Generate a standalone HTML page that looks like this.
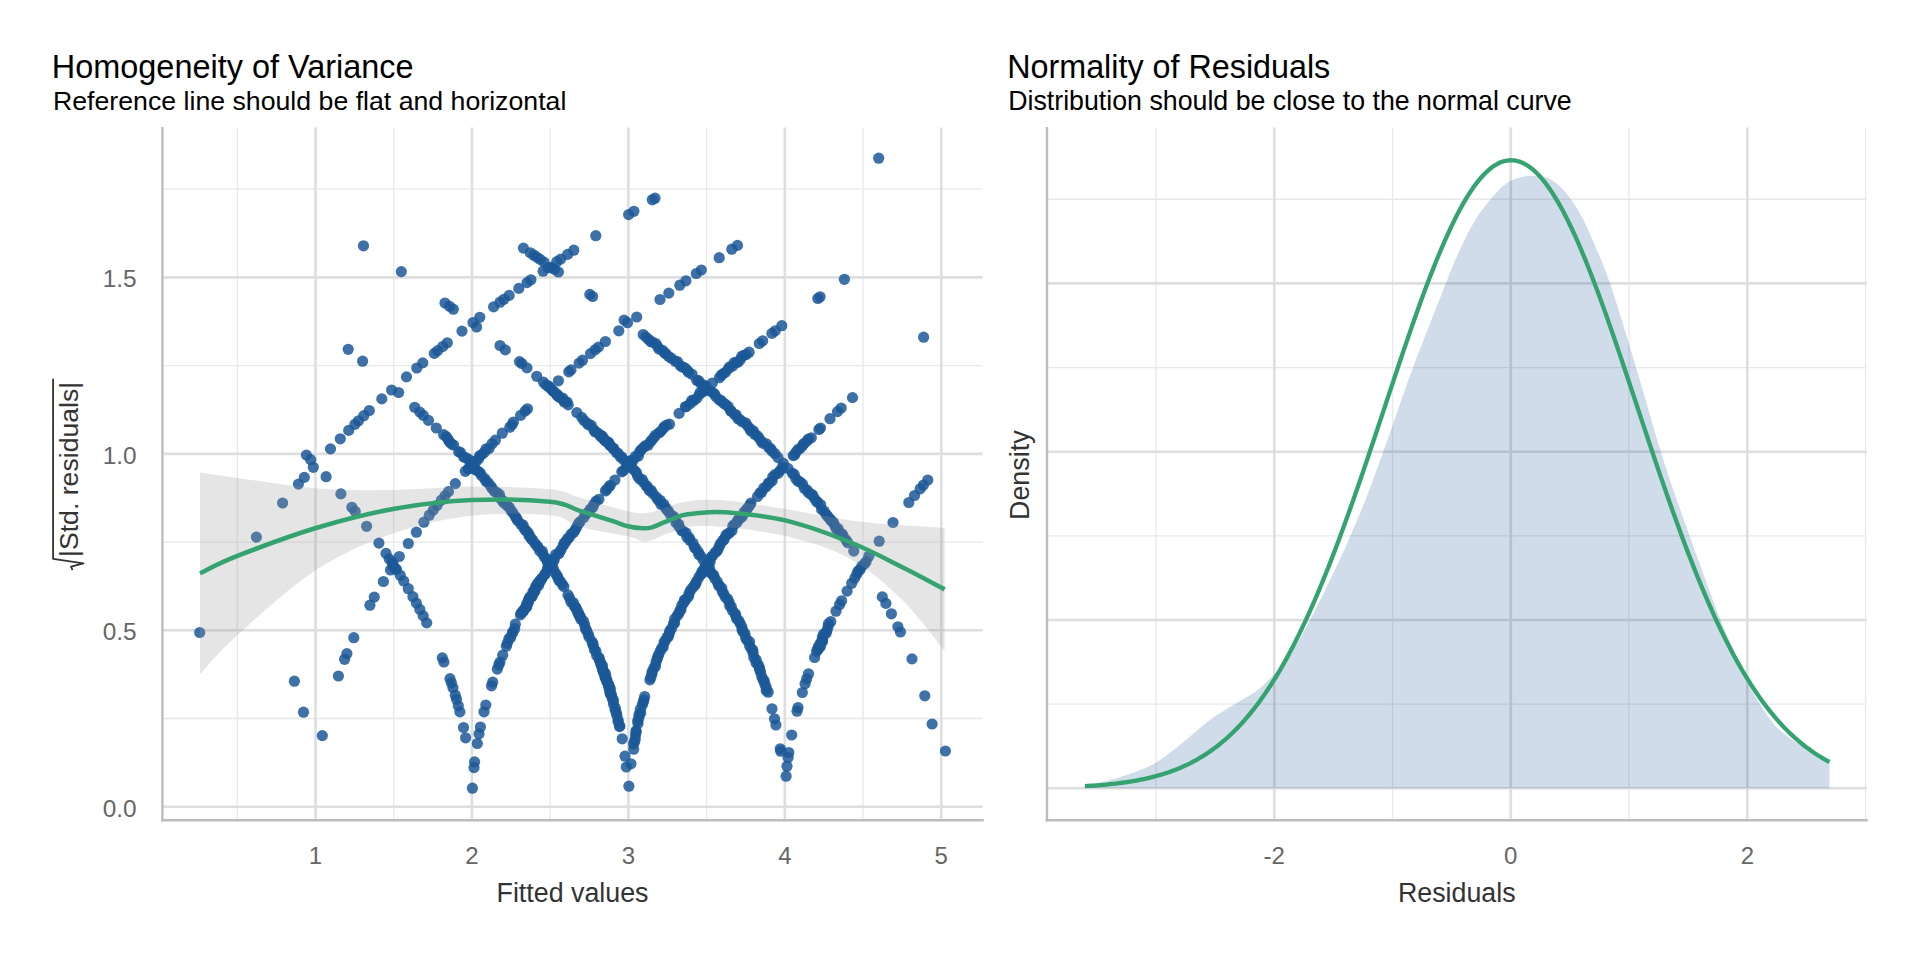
<!DOCTYPE html>
<html><head><meta charset="utf-8"><style>
html,body{margin:0;padding:0;background:#fff;width:1920px;height:960px;overflow:hidden}
svg{display:block;font-family:"Liberation Sans", sans-serif}
</style></head><body>
<svg width="1920" height="960" viewBox="0 0 1920 960">
<rect width="1920" height="960" fill="#fff"/>
<line x1="237.28" y1="127.5" x2="237.28" y2="820.2" stroke="#e8e8e8" stroke-width="1.3"/>
<line x1="393.72" y1="127.5" x2="393.72" y2="820.2" stroke="#e8e8e8" stroke-width="1.3"/>
<line x1="550.16" y1="127.5" x2="550.16" y2="820.2" stroke="#e8e8e8" stroke-width="1.3"/>
<line x1="706.60" y1="127.5" x2="706.60" y2="820.2" stroke="#e8e8e8" stroke-width="1.3"/>
<line x1="863.04" y1="127.5" x2="863.04" y2="820.2" stroke="#e8e8e8" stroke-width="1.3"/>
<line x1="162.4" y1="718.48" x2="982.5" y2="718.48" stroke="#e8e8e8" stroke-width="1.3"/>
<line x1="162.4" y1="542.05" x2="982.5" y2="542.05" stroke="#e8e8e8" stroke-width="1.3"/>
<line x1="162.4" y1="365.61" x2="982.5" y2="365.61" stroke="#e8e8e8" stroke-width="1.3"/>
<line x1="162.4" y1="189.18" x2="982.5" y2="189.18" stroke="#e8e8e8" stroke-width="1.3"/>
<line x1="315.50" y1="127.5" x2="315.50" y2="820.2" stroke="#dedede" stroke-width="2.6"/>
<line x1="471.94" y1="127.5" x2="471.94" y2="820.2" stroke="#dedede" stroke-width="2.6"/>
<line x1="628.38" y1="127.5" x2="628.38" y2="820.2" stroke="#dedede" stroke-width="2.6"/>
<line x1="784.82" y1="127.5" x2="784.82" y2="820.2" stroke="#dedede" stroke-width="2.6"/>
<line x1="941.26" y1="127.5" x2="941.26" y2="820.2" stroke="#dedede" stroke-width="2.6"/>
<line x1="162.4" y1="806.70" x2="982.5" y2="806.70" stroke="#dedede" stroke-width="2.6"/>
<line x1="162.4" y1="630.27" x2="982.5" y2="630.27" stroke="#dedede" stroke-width="2.6"/>
<line x1="162.4" y1="453.83" x2="982.5" y2="453.83" stroke="#dedede" stroke-width="2.6"/>
<line x1="162.4" y1="277.39" x2="982.5" y2="277.39" stroke="#dedede" stroke-width="2.6"/>
<line x1="1156.02" y1="127.5" x2="1156.02" y2="820.2" stroke="#e8e8e8" stroke-width="1.3"/>
<line x1="1392.54" y1="127.5" x2="1392.54" y2="820.2" stroke="#e8e8e8" stroke-width="1.3"/>
<line x1="1629.06" y1="127.5" x2="1629.06" y2="820.2" stroke="#e8e8e8" stroke-width="1.3"/>
<line x1="1865.58" y1="127.5" x2="1865.58" y2="820.2" stroke="#e8e8e8" stroke-width="1.3"/>
<line x1="1047.0" y1="704.15" x2="1866.5" y2="704.15" stroke="#e8e8e8" stroke-width="1.3"/>
<line x1="1047.0" y1="535.85" x2="1866.5" y2="535.85" stroke="#e8e8e8" stroke-width="1.3"/>
<line x1="1047.0" y1="367.55" x2="1866.5" y2="367.55" stroke="#e8e8e8" stroke-width="1.3"/>
<line x1="1047.0" y1="199.25" x2="1866.5" y2="199.25" stroke="#e8e8e8" stroke-width="1.3"/>
<line x1="1274.28" y1="127.5" x2="1274.28" y2="820.2" stroke="#dedede" stroke-width="2.6"/>
<line x1="1510.80" y1="127.5" x2="1510.80" y2="820.2" stroke="#dedede" stroke-width="2.6"/>
<line x1="1747.32" y1="127.5" x2="1747.32" y2="820.2" stroke="#dedede" stroke-width="2.6"/>
<line x1="1047.0" y1="788.30" x2="1866.5" y2="788.30" stroke="#dedede" stroke-width="2.6"/>
<line x1="1047.0" y1="620.00" x2="1866.5" y2="620.00" stroke="#dedede" stroke-width="2.6"/>
<line x1="1047.0" y1="451.70" x2="1866.5" y2="451.70" stroke="#dedede" stroke-width="2.6"/>
<line x1="1047.0" y1="283.40" x2="1866.5" y2="283.40" stroke="#dedede" stroke-width="2.6"/>
<line x1="162.4" y1="127.0" x2="162.4" y2="821.5" stroke="#bdbdbd" stroke-width="2.4"/>
<line x1="161.0" y1="820.2" x2="983.8" y2="820.2" stroke="#bdbdbd" stroke-width="2.6"/>
<line x1="1047.0" y1="127.0" x2="1047.0" y2="821.5" stroke="#bdbdbd" stroke-width="2.4"/>
<line x1="1045.6" y1="820.2" x2="1867.8" y2="820.2" stroke="#bdbdbd" stroke-width="2.6"/>
<g fill="#1b5898" fill-opacity="0.85">
<circle cx="363.5" cy="245.8" r="5.6"/><circle cx="401.3" cy="271.6" r="5.6"/><circle cx="348.2" cy="349.3" r="5.6"/><circle cx="362.6" cy="361.2" r="5.6"/><circle cx="437.7" cy="350.6" r="5.6"/><circle cx="434.3" cy="353.4" r="5.6"/><circle cx="391.6" cy="390.0" r="5.6"/><circle cx="398.6" cy="392.5" r="5.6"/><circle cx="381.8" cy="398.9" r="5.6"/><circle cx="369.3" cy="410.5" r="5.6"/><circle cx="363.8" cy="415.7" r="5.6"/><circle cx="358.5" cy="420.8" r="5.6"/><circle cx="354.9" cy="424.3" r="5.6"/><circle cx="348.7" cy="430.4" r="5.6"/><circle cx="340.3" cy="438.8" r="5.6"/><circle cx="330.5" cy="448.9" r="5.6"/><circle cx="306.4" cy="455.1" r="5.6"/><circle cx="310.7" cy="459.7" r="5.6"/><circle cx="313.3" cy="467.3" r="5.6"/><circle cx="304.3" cy="477.4" r="5.6"/><circle cx="298.4" cy="484.1" r="5.6"/><circle cx="326.1" cy="476.7" r="5.6"/><circle cx="282.6" cy="503.0" r="5.6"/><circle cx="256.4" cy="537.1" r="5.6"/><circle cx="340.9" cy="493.9" r="5.6"/><circle cx="351.9" cy="507.3" r="5.6"/><circle cx="355.2" cy="511.4" r="5.6"/><circle cx="366.6" cy="526.3" r="5.6"/><circle cx="378.9" cy="543.1" r="5.6"/><circle cx="386.0" cy="553.4" r="5.6"/><circle cx="399.3" cy="556.5" r="5.6"/><circle cx="878.7" cy="158.2" r="5.6"/><circle cx="844.4" cy="279.3" r="5.6"/><circle cx="817.8" cy="298.5" r="5.6"/><circle cx="820.1" cy="296.8" r="5.6"/><circle cx="781.8" cy="325.7" r="5.6"/><circle cx="923.6" cy="337.2" r="5.6"/><circle cx="199.7" cy="632.5" r="5.6"/><circle cx="945.4" cy="751.0" r="5.6"/><circle cx="932.1" cy="724.0" r="5.6"/><circle cx="294.4" cy="681.2" r="5.6"/><circle cx="303.5" cy="712.2" r="5.6"/><circle cx="322.3" cy="735.6" r="5.6"/><circle cx="338.4" cy="676.0" r="5.6"/><circle cx="344.6" cy="659.3" r="5.6"/><circle cx="346.9" cy="653.6" r="5.6"/><circle cx="353.8" cy="637.7" r="5.6"/><circle cx="369.9" cy="605.2" r="5.6"/><circle cx="374.3" cy="597.1" r="5.6"/><circle cx="383.4" cy="581.5" r="5.6"/><circle cx="390.5" cy="570.0" r="5.6"/><circle cx="393.2" cy="564.3" r="5.6"/><circle cx="400.2" cy="575.3" r="5.6"/><circle cx="523.4" cy="248.1" r="5.6"/><circle cx="530.3" cy="252.8" r="5.6"/><circle cx="533.9" cy="255.2" r="5.6"/><circle cx="536.7" cy="257.1" r="5.6"/><circle cx="540.1" cy="259.4" r="5.6"/><circle cx="544.0" cy="262.1" r="5.6"/><circle cx="543.1" cy="271.2" r="5.6"/><circle cx="548.1" cy="267.7" r="5.6"/><circle cx="551.6" cy="267.3" r="5.6"/><circle cx="554.5" cy="269.3" r="5.6"/><circle cx="558.4" cy="272.0" r="5.6"/><circle cx="556.8" cy="261.7" r="5.6"/><circle cx="560.7" cy="259.1" r="5.6"/><circle cx="567.6" cy="254.4" r="5.6"/><circle cx="573.8" cy="250.2" r="5.6"/><circle cx="595.8" cy="235.7" r="5.6"/><circle cx="589.8" cy="294.4" r="5.6"/><circle cx="592.6" cy="296.5" r="5.6"/><circle cx="445.0" cy="303.0" r="5.6"/><circle cx="449.6" cy="306.4" r="5.6"/><circle cx="453.3" cy="309.2" r="5.6"/><circle cx="479.8" cy="317.3" r="5.6"/><circle cx="473.0" cy="322.5" r="5.6"/><circle cx="476.6" cy="327.0" r="5.6"/><circle cx="462.0" cy="331.1" r="5.6"/><circle cx="493.6" cy="306.9" r="5.6"/><circle cx="500.0" cy="302.2" r="5.6"/><circle cx="503.9" cy="299.3" r="5.6"/><circle cx="509.2" cy="295.4" r="5.6"/><circle cx="518.8" cy="288.4" r="5.6"/><circle cx="527.0" cy="282.6" r="5.6"/><circle cx="530.9" cy="279.8" r="5.6"/><circle cx="447.3" cy="342.8" r="5.6"/><circle cx="442.7" cy="346.5" r="5.6"/><circle cx="422.8" cy="362.9" r="5.6"/><circle cx="416.8" cy="368.0" r="5.6"/><circle cx="406.5" cy="376.9" r="5.6"/><circle cx="500.0" cy="345.5" r="5.6"/><circle cx="505.3" cy="349.9" r="5.6"/><circle cx="519.5" cy="361.6" r="5.6"/><circle cx="521.8" cy="363.5" r="5.6"/><circle cx="527.0" cy="367.9" r="5.6"/><circle cx="536.7" cy="376.3" r="5.6"/><circle cx="543.5" cy="382.2" r="5.6"/><circle cx="548.1" cy="386.3" r="5.6"/><circle cx="552.7" cy="390.4" r="5.6"/><circle cx="557.3" cy="394.5" r="5.6"/><circle cx="564.2" cy="400.8" r="5.6"/><circle cx="558.4" cy="380.8" r="5.6"/><circle cx="568.8" cy="371.8" r="5.6"/><circle cx="571.0" cy="369.9" r="5.6"/><circle cx="579.1" cy="363.1" r="5.6"/><circle cx="582.5" cy="360.2" r="5.6"/><circle cx="590.5" cy="353.6" r="5.6"/><circle cx="595.1" cy="349.8" r="5.6"/><circle cx="598.5" cy="347.0" r="5.6"/><circle cx="605.4" cy="341.5" r="5.6"/><circle cx="628.6" cy="214.6" r="5.6"/><circle cx="633.9" cy="211.3" r="5.6"/><circle cx="652.3" cy="199.8" r="5.6"/><circle cx="655.0" cy="198.2" r="5.6"/><circle cx="660.0" cy="299.5" r="5.6"/><circle cx="668.8" cy="293.1" r="5.6"/><circle cx="679.8" cy="285.2" r="5.6"/><circle cx="685.9" cy="280.8" r="5.6"/><circle cx="696.3" cy="273.5" r="5.6"/><circle cx="701.3" cy="270.0" r="5.6"/><circle cx="719.2" cy="257.7" r="5.6"/><circle cx="731.8" cy="249.2" r="5.6"/><circle cx="737.5" cy="245.4" r="5.6"/><circle cx="618.8" cy="330.8" r="5.6"/><circle cx="624.1" cy="320.1" r="5.6"/><circle cx="627.5" cy="322.7" r="5.6"/><circle cx="636.7" cy="317.0" r="5.6"/><circle cx="759.3" cy="343.5" r="5.6"/><circle cx="762.7" cy="340.8" r="5.6"/><circle cx="771.9" cy="333.4" r="5.6"/><circle cx="775.3" cy="330.8" r="5.6"/><circle cx="622.2" cy="738.8" r="5.6"/><circle cx="625.0" cy="756.2" r="5.6"/><circle cx="626.3" cy="767.0" r="5.6"/><circle cx="628.9" cy="786.2" r="5.6"/><circle cx="630.9" cy="763.8" r="5.6"/><circle cx="772.0" cy="708.8" r="5.6"/><circle cx="774.5" cy="718.8" r="5.6"/><circle cx="775.9" cy="725.0" r="5.6"/><circle cx="780.3" cy="748.8" r="5.6"/><circle cx="780.7" cy="751.2" r="5.6"/><circle cx="788.8" cy="752.5" r="5.6"/><circle cx="788.1" cy="757.5" r="5.6"/><circle cx="787.0" cy="766.2" r="5.6"/><circle cx="786.1" cy="776.2" r="5.6"/><circle cx="791.7" cy="735.0" r="5.6"/><circle cx="798.0" cy="707.5" r="5.6"/><circle cx="797.0" cy="711.2" r="5.6"/><circle cx="802.3" cy="692.5" r="5.6"/><circle cx="805.1" cy="683.8" r="5.6"/><circle cx="806.7" cy="678.8" r="5.6"/><circle cx="808.5" cy="673.8" r="5.6"/><circle cx="814.6" cy="657.5" r="5.6"/><circle cx="472.4" cy="788.2" r="5.6"/><circle cx="474.6" cy="761.9" r="5.6"/><circle cx="474.0" cy="767.6" r="5.6"/><circle cx="477.3" cy="743.5" r="5.6"/><circle cx="479.0" cy="733.9" r="5.6"/><circle cx="480.4" cy="727.0" r="5.6"/><circle cx="465.6" cy="737.8" r="5.6"/><circle cx="463.5" cy="727.5" r="5.6"/><circle cx="868.8" cy="556.2" r="5.6"/><circle cx="879.2" cy="541.2" r="5.6"/><circle cx="893.0" cy="522.5" r="5.6"/><circle cx="908.8" cy="502.5" r="5.6"/><circle cx="914.5" cy="495.5" r="5.6"/><circle cx="920.2" cy="488.8" r="5.6"/><circle cx="923.4" cy="485.0" r="5.6"/><circle cx="927.8" cy="480.0" r="5.6"/><circle cx="820.5" cy="428.0" r="5.6"/><circle cx="830.0" cy="418.7" r="5.6"/><circle cx="837.5" cy="411.6" r="5.6"/><circle cx="841.2" cy="408.0" r="5.6"/><circle cx="852.5" cy="397.6" r="5.6"/><circle cx="836.0" cy="611.2" r="5.6"/><circle cx="839.5" cy="604.7" r="5.6"/><circle cx="841.6" cy="600.8" r="5.6"/><circle cx="847.1" cy="591.1" r="5.6"/><circle cx="851.7" cy="583.3" r="5.6"/><circle cx="854.8" cy="578.1" r="5.6"/><circle cx="882.3" cy="596.9" r="5.6"/><circle cx="885.9" cy="603.4" r="5.6"/><circle cx="891.4" cy="613.8" r="5.6"/><circle cx="897.9" cy="626.8" r="5.6"/><circle cx="900.4" cy="632.0" r="5.6"/><circle cx="912.0" cy="658.9" r="5.6"/><circle cx="924.8" cy="695.8" r="5.6"/><circle cx="443.6" cy="434.7" r="5.6"/><circle cx="446.2" cy="436.5" r="5.6"/><circle cx="448.1" cy="439.4" r="5.6"/><circle cx="449.4" cy="441.9" r="5.6"/><circle cx="451.4" cy="443.8" r="5.6"/><circle cx="453.5" cy="445.0" r="5.6"/><circle cx="458.7" cy="451.7" r="5.6"/><circle cx="460.5" cy="452.5" r="5.6"/><circle cx="463.5" cy="456.8" r="5.6"/><circle cx="465.7" cy="457.8" r="5.6"/><circle cx="468.5" cy="459.2" r="5.6"/><circle cx="470.4" cy="462.1" r="5.6"/><circle cx="471.3" cy="463.9" r="5.6"/><circle cx="473.7" cy="468.0" r="5.6"/><circle cx="475.5" cy="469.7" r="5.6"/><circle cx="478.3" cy="471.4" r="5.6"/><circle cx="480.2" cy="472.9" r="5.6"/><circle cx="481.5" cy="475.6" r="5.6"/><circle cx="484.6" cy="478.5" r="5.6"/><circle cx="486.0" cy="481.2" r="5.6"/><circle cx="488.4" cy="483.0" r="5.6"/><circle cx="491.0" cy="486.4" r="5.6"/><circle cx="492.2" cy="488.5" r="5.6"/><circle cx="494.6" cy="491.6" r="5.6"/><circle cx="497.0" cy="492.5" r="5.6"/><circle cx="499.4" cy="494.5" r="5.6"/><circle cx="500.5" cy="498.5" r="5.6"/><circle cx="502.1" cy="500.2" r="5.6"/><circle cx="503.9" cy="503.1" r="5.6"/><circle cx="507.3" cy="505.7" r="5.6"/><circle cx="509.4" cy="507.4" r="5.6"/><circle cx="511.1" cy="510.6" r="5.6"/><circle cx="512.8" cy="512.6" r="5.6"/><circle cx="515.1" cy="516.3" r="5.6"/><circle cx="516.4" cy="518.0" r="5.6"/><circle cx="517.6" cy="520.5" r="5.6"/><circle cx="520.8" cy="524.3" r="5.6"/><circle cx="523.0" cy="524.9" r="5.6"/><circle cx="524.1" cy="528.4" r="5.6"/><circle cx="525.4" cy="530.3" r="5.6"/><circle cx="527.5" cy="531.9" r="5.6"/><circle cx="529.1" cy="536.1" r="5.6"/><circle cx="529.2" cy="534.7" r="5.6"/><circle cx="531.3" cy="538.7" r="5.6"/><circle cx="532.5" cy="540.0" r="5.6"/><circle cx="535.0" cy="543.5" r="5.6"/><circle cx="537.1" cy="545.9" r="5.6"/><circle cx="537.9" cy="547.1" r="5.6"/><circle cx="539.7" cy="550.7" r="5.6"/><circle cx="542.3" cy="551.2" r="5.6"/><circle cx="542.7" cy="553.9" r="5.6"/><circle cx="544.4" cy="557.0" r="5.6"/><circle cx="546.6" cy="558.8" r="5.6"/><circle cx="547.3" cy="561.7" r="5.6"/><circle cx="547.9" cy="562.0" r="5.6"/><circle cx="550.5" cy="564.9" r="5.6"/><circle cx="551.4" cy="567.3" r="5.6"/><circle cx="553.3" cy="568.4" r="5.6"/><circle cx="555.3" cy="572.9" r="5.6"/><circle cx="556.9" cy="575.5" r="5.6"/><circle cx="557.7" cy="577.1" r="5.6"/><circle cx="558.9" cy="580.3" r="5.6"/><circle cx="560.4" cy="581.4" r="5.6"/><circle cx="562.2" cy="584.3" r="5.6"/><circle cx="563.9" cy="586.6" r="5.6"/><circle cx="568.0" cy="594.9" r="5.6"/><circle cx="569.6" cy="598.1" r="5.6"/><circle cx="571.0" cy="602.0" r="5.6"/><circle cx="573.4" cy="602.8" r="5.6"/><circle cx="574.2" cy="605.9" r="5.6"/><circle cx="575.8" cy="608.0" r="5.6"/><circle cx="578.0" cy="613.0" r="5.6"/><circle cx="578.8" cy="614.3" r="5.6"/><circle cx="579.5" cy="616.0" r="5.6"/><circle cx="465.3" cy="471.3" r="5.6"/><circle cx="468.2" cy="468.8" r="5.6"/><circle cx="468.9" cy="468.6" r="5.6"/><circle cx="471.8" cy="464.2" r="5.6"/><circle cx="473.9" cy="461.6" r="5.6"/><circle cx="475.9" cy="461.9" r="5.6"/><circle cx="478.6" cy="458.9" r="5.6"/><circle cx="479.7" cy="455.8" r="5.6"/><circle cx="481.6" cy="454.6" r="5.6"/><circle cx="484.3" cy="452.4" r="5.6"/><circle cx="486.1" cy="448.8" r="5.6"/><circle cx="489.0" cy="448.6" r="5.6"/><circle cx="509.8" cy="427.2" r="5.6"/><circle cx="512.0" cy="424.8" r="5.6"/><circle cx="513.4" cy="422.0" r="5.6"/><circle cx="520.4" cy="614.9" r="5.6"/><circle cx="521.2" cy="612.9" r="5.6"/><circle cx="522.9" cy="611.3" r="5.6"/><circle cx="525.4" cy="608.0" r="5.6"/><circle cx="526.8" cy="606.8" r="5.6"/><circle cx="528.3" cy="602.6" r="5.6"/><circle cx="528.5" cy="599.6" r="5.6"/><circle cx="529.9" cy="597.0" r="5.6"/><circle cx="532.1" cy="596.2" r="5.6"/><circle cx="533.9" cy="592.5" r="5.6"/><circle cx="535.1" cy="590.8" r="5.6"/><circle cx="535.7" cy="587.9" r="5.6"/><circle cx="538.5" cy="585.6" r="5.6"/><circle cx="539.8" cy="582.3" r="5.6"/><circle cx="540.4" cy="580.5" r="5.6"/><circle cx="542.2" cy="578.0" r="5.6"/><circle cx="544.8" cy="574.5" r="5.6"/><circle cx="545.4" cy="573.4" r="5.6"/><circle cx="547.5" cy="568.8" r="5.6"/><circle cx="548.2" cy="566.3" r="5.6"/><circle cx="551.0" cy="565.5" r="5.6"/><circle cx="551.4" cy="563.1" r="5.6"/><circle cx="553.8" cy="561.1" r="5.6"/><circle cx="554.4" cy="558.4" r="5.6"/><circle cx="555.7" cy="554.5" r="5.6"/><circle cx="558.7" cy="553.7" r="5.6"/><circle cx="559.6" cy="552.1" r="5.6"/><circle cx="561.1" cy="549.5" r="5.6"/><circle cx="563.4" cy="545.4" r="5.6"/><circle cx="564.2" cy="543.2" r="5.6"/><circle cx="565.9" cy="541.5" r="5.6"/><circle cx="567.6" cy="538.7" r="5.6"/><circle cx="569.1" cy="537.6" r="5.6"/><circle cx="571.2" cy="534.0" r="5.6"/><circle cx="573.3" cy="532.8" r="5.6"/><circle cx="574.8" cy="530.5" r="5.6"/><circle cx="576.7" cy="527.2" r="5.6"/><circle cx="578.5" cy="523.5" r="5.6"/><circle cx="580.1" cy="521.6" r="5.6"/><circle cx="584.0" cy="517.2" r="5.6"/><circle cx="586.2" cy="513.9" r="5.6"/><circle cx="589.0" cy="511.6" r="5.6"/><circle cx="590.3" cy="509.1" r="5.6"/><circle cx="592.7" cy="507.3" r="5.6"/><circle cx="593.9" cy="504.3" r="5.6"/><circle cx="596.1" cy="501.1" r="5.6"/><circle cx="598.9" cy="499.3" r="5.6"/><circle cx="545.9" cy="384.9" r="5.6"/><circle cx="548.8" cy="386.2" r="5.6"/><circle cx="550.6" cy="388.4" r="5.6"/><circle cx="552.8" cy="390.9" r="5.6"/><circle cx="555.0" cy="392.6" r="5.6"/><circle cx="557.3" cy="395.7" r="5.6"/><circle cx="560.0" cy="397.7" r="5.6"/><circle cx="562.7" cy="398.1" r="5.6"/><circle cx="564.3" cy="402.0" r="5.6"/><circle cx="567.1" cy="402.0" r="5.6"/><circle cx="568.2" cy="404.9" r="5.6"/><circle cx="581.8" cy="417.4" r="5.6"/><circle cx="584.0" cy="420.5" r="5.6"/><circle cx="587.2" cy="423.2" r="5.6"/><circle cx="588.4" cy="424.8" r="5.6"/><circle cx="591.3" cy="425.4" r="5.6"/><circle cx="593.8" cy="429.7" r="5.6"/><circle cx="594.9" cy="431.7" r="5.6"/><circle cx="597.3" cy="432.6" r="5.6"/><circle cx="600.3" cy="435.6" r="5.6"/><circle cx="601.1" cy="436.7" r="5.6"/><circle cx="603.8" cy="438.6" r="5.6"/><circle cx="605.3" cy="440.7" r="5.6"/><circle cx="608.3" cy="442.0" r="5.6"/><circle cx="610.1" cy="445.3" r="5.6"/><circle cx="389.2" cy="558.9" r="5.6"/><circle cx="392.0" cy="562.1" r="5.6"/><circle cx="392.8" cy="566.0" r="5.6"/><circle cx="395.7" cy="568.7" r="5.6"/><circle cx="396.4" cy="569.5" r="5.6"/><circle cx="507.3" cy="643.3" r="5.6"/><circle cx="508.9" cy="638.7" r="5.6"/><circle cx="510.5" cy="637.9" r="5.6"/><circle cx="512.4" cy="633.3" r="5.6"/><circle cx="512.7" cy="632.1" r="5.6"/><circle cx="514.7" cy="628.7" r="5.6"/><circle cx="515.3" cy="624.2" r="5.6"/><circle cx="523.2" cy="611.4" r="5.6"/><circle cx="523.7" cy="610.0" r="5.6"/><circle cx="526.0" cy="606.9" r="5.6"/><circle cx="526.6" cy="604.3" r="5.6"/><circle cx="528.1" cy="601.6" r="5.6"/><circle cx="530.2" cy="597.5" r="5.6"/><circle cx="531.9" cy="596.3" r="5.6"/><circle cx="533.0" cy="591.6" r="5.6"/><circle cx="535.0" cy="589.1" r="5.6"/><circle cx="535.9" cy="586.3" r="5.6"/><circle cx="537.4" cy="583.7" r="5.6"/><circle cx="539.4" cy="581.3" r="5.6"/><circle cx="541.7" cy="578.6" r="5.6"/><circle cx="575.6" cy="607.3" r="5.6"/><circle cx="576.8" cy="609.7" r="5.6"/><circle cx="578.1" cy="612.4" r="5.6"/><circle cx="580.3" cy="616.6" r="5.6"/><circle cx="580.8" cy="619.2" r="5.6"/><circle cx="583.4" cy="621.0" r="5.6"/><circle cx="584.6" cy="624.7" r="5.6"/><circle cx="585.4" cy="628.5" r="5.6"/><circle cx="586.6" cy="630.5" r="5.6"/><circle cx="588.4" cy="634.5" r="5.6"/><circle cx="589.1" cy="637.0" r="5.6"/><circle cx="592.0" cy="641.6" r="5.6"/><circle cx="592.7" cy="643.5" r="5.6"/><circle cx="593.3" cy="645.6" r="5.6"/><circle cx="594.5" cy="649.9" r="5.6"/><circle cx="595.9" cy="651.1" r="5.6"/><circle cx="596.7" cy="655.5" r="5.6"/><circle cx="599.1" cy="657.8" r="5.6"/><circle cx="600.5" cy="662.5" r="5.6"/><circle cx="601.5" cy="665.8" r="5.6"/><circle cx="602.3" cy="668.5" r="5.6"/><circle cx="603.5" cy="672.5" r="5.6"/><circle cx="605.6" cy="674.2" r="5.6"/><circle cx="605.4" cy="678.0" r="5.6"/><circle cx="606.4" cy="679.2" r="5.6"/><circle cx="606.9" cy="682.0" r="5.6"/><circle cx="608.5" cy="685.0" r="5.6"/><circle cx="609.0" cy="687.8" r="5.6"/><circle cx="609.5" cy="690.0" r="5.6"/><circle cx="610.5" cy="693.1" r="5.6"/><circle cx="611.3" cy="694.9" r="5.6"/><circle cx="643.2" cy="334.5" r="5.6"/><circle cx="645.9" cy="337.1" r="5.6"/><circle cx="648.5" cy="339.3" r="5.6"/><circle cx="650.8" cy="341.7" r="5.6"/><circle cx="652.5" cy="342.1" r="5.6"/><circle cx="655.8" cy="343.5" r="5.6"/><circle cx="657.7" cy="346.6" r="5.6"/><circle cx="658.9" cy="349.0" r="5.6"/><circle cx="662.5" cy="350.3" r="5.6"/><circle cx="664.5" cy="352.7" r="5.6"/><circle cx="665.9" cy="353.8" r="5.6"/><circle cx="668.7" cy="356.5" r="5.6"/><circle cx="671.5" cy="358.3" r="5.6"/><circle cx="737.6" cy="362.4" r="5.6"/><circle cx="740.1" cy="360.0" r="5.6"/><circle cx="741.7" cy="356.4" r="5.6"/><circle cx="743.8" cy="355.3" r="5.6"/><circle cx="746.1" cy="354.6" r="5.6"/><circle cx="749.1" cy="352.2" r="5.6"/><circle cx="675.2" cy="361.3" r="5.6"/><circle cx="677.4" cy="361.5" r="5.6"/><circle cx="680.3" cy="365.5" r="5.6"/><circle cx="682.2" cy="367.0" r="5.6"/><circle cx="684.8" cy="367.8" r="5.6"/><circle cx="687.3" cy="370.3" r="5.6"/><circle cx="688.6" cy="372.4" r="5.6"/><circle cx="692.1" cy="374.3" r="5.6"/><circle cx="696.7" cy="380.3" r="5.6"/><circle cx="698.6" cy="380.7" r="5.6"/><circle cx="700.8" cy="383.5" r="5.6"/><circle cx="703.6" cy="385.3" r="5.6"/><circle cx="705.6" cy="385.9" r="5.6"/><circle cx="709.4" cy="390.5" r="5.6"/><circle cx="712.6" cy="392.6" r="5.6"/><circle cx="714.5" cy="393.9" r="5.6"/><circle cx="715.9" cy="396.6" r="5.6"/><circle cx="719.1" cy="399.7" r="5.6"/><circle cx="721.3" cy="400.7" r="5.6"/><circle cx="723.3" cy="403.1" r="5.6"/><circle cx="725.4" cy="404.3" r="5.6"/><circle cx="728.2" cy="406.5" r="5.6"/><circle cx="730.5" cy="410.5" r="5.6"/><circle cx="731.2" cy="411.3" r="5.6"/><circle cx="734.6" cy="414.6" r="5.6"/><circle cx="736.2" cy="414.9" r="5.6"/><circle cx="738.0" cy="418.7" r="5.6"/><circle cx="740.1" cy="419.8" r="5.6"/><circle cx="742.2" cy="421.8" r="5.6"/><circle cx="745.6" cy="422.8" r="5.6"/><circle cx="747.5" cy="425.9" r="5.6"/><circle cx="749.8" cy="428.5" r="5.6"/><circle cx="750.8" cy="431.1" r="5.6"/><circle cx="753.4" cy="430.9" r="5.6"/><circle cx="754.7" cy="434.2" r="5.6"/><circle cx="757.5" cy="435.9" r="5.6"/><circle cx="759.1" cy="438.1" r="5.6"/><circle cx="761.5" cy="441.5" r="5.6"/><circle cx="763.1" cy="443.4" r="5.6"/><circle cx="766.5" cy="443.9" r="5.6"/><circle cx="768.7" cy="447.6" r="5.6"/><circle cx="770.7" cy="448.6" r="5.6"/><circle cx="771.9" cy="451.1" r="5.6"/><circle cx="775.0" cy="453.7" r="5.6"/><circle cx="792.3" cy="473.2" r="5.6"/><circle cx="794.2" cy="474.5" r="5.6"/><circle cx="795.9" cy="478.8" r="5.6"/><circle cx="798.2" cy="481.4" r="5.6"/><circle cx="800.1" cy="481.9" r="5.6"/><circle cx="802.5" cy="484.0" r="5.6"/><circle cx="804.3" cy="488.3" r="5.6"/><circle cx="807.1" cy="490.2" r="5.6"/><circle cx="808.6" cy="492.8" r="5.6"/><circle cx="811.1" cy="494.2" r="5.6"/><circle cx="812.7" cy="495.2" r="5.6"/><circle cx="814.6" cy="498.6" r="5.6"/><circle cx="816.6" cy="501.5" r="5.6"/><circle cx="817.7" cy="502.3" r="5.6"/><circle cx="820.7" cy="504.8" r="5.6"/><circle cx="621.8" cy="471.8" r="5.6"/><circle cx="623.4" cy="470.6" r="5.6"/><circle cx="626.5" cy="467.2" r="5.6"/><circle cx="628.0" cy="465.1" r="5.6"/><circle cx="629.8" cy="463.2" r="5.6"/><circle cx="631.2" cy="460.4" r="5.6"/><circle cx="633.3" cy="460.2" r="5.6"/><circle cx="635.7" cy="456.2" r="5.6"/><circle cx="638.4" cy="456.1" r="5.6"/><circle cx="639.7" cy="451.7" r="5.6"/><circle cx="641.3" cy="449.5" r="5.6"/><circle cx="643.6" cy="447.4" r="5.6"/><circle cx="645.5" cy="445.7" r="5.6"/><circle cx="648.1" cy="445.2" r="5.6"/><circle cx="650.4" cy="441.8" r="5.6"/><circle cx="651.9" cy="440.0" r="5.6"/><circle cx="654.0" cy="437.4" r="5.6"/><circle cx="655.5" cy="435.2" r="5.6"/><circle cx="659.1" cy="432.7" r="5.6"/><circle cx="660.4" cy="431.9" r="5.6"/><circle cx="663.1" cy="428.8" r="5.6"/><circle cx="664.2" cy="426.8" r="5.6"/><circle cx="666.5" cy="425.2" r="5.6"/><circle cx="669.5" cy="424.2" r="5.6"/><circle cx="685.4" cy="406.8" r="5.6"/><circle cx="686.3" cy="406.5" r="5.6"/><circle cx="690.0" cy="403.7" r="5.6"/><circle cx="691.8" cy="400.4" r="5.6"/><circle cx="693.7" cy="400.7" r="5.6"/><circle cx="696.7" cy="398.4" r="5.6"/><circle cx="699.2" cy="394.8" r="5.6"/><circle cx="700.2" cy="392.4" r="5.6"/><circle cx="703.1" cy="391.7" r="5.6"/><circle cx="706.1" cy="389.8" r="5.6"/><circle cx="719.4" cy="377.7" r="5.6"/><circle cx="721.3" cy="375.2" r="5.6"/><circle cx="722.9" cy="373.9" r="5.6"/><circle cx="725.4" cy="372.4" r="5.6"/><circle cx="728.3" cy="368.9" r="5.6"/><circle cx="729.7" cy="366.8" r="5.6"/><circle cx="732.7" cy="366.1" r="5.6"/><circle cx="734.1" cy="362.6" r="5.6"/><circle cx="737.0" cy="362.0" r="5.6"/><circle cx="599.8" cy="434.5" r="5.6"/><circle cx="602.2" cy="436.0" r="5.6"/><circle cx="603.8" cy="439.2" r="5.6"/><circle cx="606.8" cy="441.8" r="5.6"/><circle cx="608.7" cy="443.4" r="5.6"/><circle cx="609.7" cy="444.9" r="5.6"/><circle cx="612.9" cy="448.2" r="5.6"/><circle cx="613.8" cy="448.5" r="5.6"/><circle cx="616.1" cy="452.3" r="5.6"/><circle cx="618.0" cy="453.3" r="5.6"/><circle cx="620.4" cy="457.1" r="5.6"/><circle cx="621.7" cy="456.9" r="5.6"/><circle cx="623.8" cy="460.1" r="5.6"/><circle cx="626.3" cy="461.6" r="5.6"/><circle cx="628.5" cy="465.1" r="5.6"/><circle cx="632.0" cy="468.1" r="5.6"/><circle cx="634.8" cy="470.6" r="5.6"/><circle cx="636.5" cy="472.7" r="5.6"/><circle cx="637.6" cy="476.3" r="5.6"/><circle cx="639.7" cy="479.1" r="5.6"/><circle cx="642.0" cy="479.3" r="5.6"/><circle cx="643.5" cy="482.2" r="5.6"/><circle cx="646.2" cy="485.8" r="5.6"/><circle cx="647.3" cy="486.7" r="5.6"/><circle cx="649.4" cy="490.5" r="5.6"/><circle cx="651.2" cy="490.4" r="5.6"/><circle cx="653.0" cy="493.6" r="5.6"/><circle cx="656.3" cy="497.1" r="5.6"/><circle cx="657.9" cy="499.8" r="5.6"/><circle cx="660.2" cy="500.3" r="5.6"/><circle cx="660.9" cy="504.3" r="5.6"/><circle cx="663.7" cy="504.2" r="5.6"/><circle cx="665.4" cy="507.5" r="5.6"/><circle cx="666.8" cy="509.7" r="5.6"/><circle cx="668.4" cy="511.2" r="5.6"/><circle cx="670.4" cy="514.5" r="5.6"/><circle cx="673.3" cy="516.3" r="5.6"/><circle cx="675.2" cy="518.9" r="5.6"/><circle cx="676.0" cy="522.9" r="5.6"/><circle cx="678.6" cy="524.2" r="5.6"/><circle cx="679.2" cy="526.7" r="5.6"/><circle cx="681.5" cy="530.3" r="5.6"/><circle cx="683.0" cy="531.3" r="5.6"/><circle cx="685.9" cy="532.8" r="5.6"/><circle cx="686.9" cy="537.3" r="5.6"/><circle cx="689.2" cy="537.7" r="5.6"/><circle cx="689.8" cy="540.2" r="5.6"/><circle cx="693.0" cy="543.2" r="5.6"/><circle cx="694.4" cy="547.3" r="5.6"/><circle cx="695.5" cy="548.2" r="5.6"/><circle cx="698.2" cy="551.6" r="5.6"/><circle cx="698.7" cy="554.3" r="5.6"/><circle cx="700.5" cy="555.6" r="5.6"/><circle cx="702.2" cy="571.3" r="5.6"/><circle cx="705.2" cy="568.5" r="5.6"/><circle cx="706.9" cy="564.5" r="5.6"/><circle cx="707.4" cy="563.1" r="5.6"/><circle cx="710.1" cy="561.9" r="5.6"/><circle cx="710.8" cy="557.6" r="5.6"/><circle cx="712.6" cy="555.8" r="5.6"/><circle cx="715.0" cy="552.6" r="5.6"/><circle cx="716.5" cy="551.6" r="5.6"/><circle cx="718.2" cy="549.2" r="5.6"/><circle cx="719.5" cy="545.7" r="5.6"/><circle cx="720.7" cy="543.3" r="5.6"/><circle cx="723.2" cy="540.2" r="5.6"/><circle cx="724.0" cy="539.5" r="5.6"/><circle cx="725.8" cy="535.4" r="5.6"/><circle cx="727.2" cy="534.2" r="5.6"/><circle cx="729.4" cy="533.0" r="5.6"/><circle cx="732.0" cy="530.6" r="5.6"/><circle cx="732.8" cy="525.9" r="5.6"/><circle cx="734.3" cy="524.6" r="5.6"/><circle cx="737.1" cy="522.2" r="5.6"/><circle cx="738.1" cy="519.7" r="5.6"/><circle cx="740.5" cy="518.1" r="5.6"/><circle cx="742.5" cy="516.2" r="5.6"/><circle cx="744.2" cy="512.0" r="5.6"/><circle cx="746.3" cy="510.1" r="5.6"/><circle cx="747.7" cy="508.0" r="5.6"/><circle cx="749.8" cy="505.3" r="5.6"/><circle cx="750.9" cy="503.1" r="5.6"/><circle cx="757.5" cy="496.5" r="5.6"/><circle cx="760.1" cy="492.8" r="5.6"/><circle cx="761.7" cy="492.2" r="5.6"/><circle cx="763.8" cy="488.0" r="5.6"/><circle cx="766.2" cy="486.9" r="5.6"/><circle cx="768.4" cy="483.2" r="5.6"/><circle cx="769.5" cy="482.8" r="5.6"/><circle cx="772.1" cy="480.9" r="5.6"/><circle cx="772.7" cy="477.0" r="5.6"/><circle cx="774.8" cy="474.6" r="5.6"/><circle cx="778.1" cy="473.4" r="5.6"/><circle cx="780.0" cy="470.6" r="5.6"/><circle cx="781.9" cy="468.6" r="5.6"/><circle cx="782.9" cy="467.3" r="5.6"/><circle cx="793.2" cy="455.6" r="5.6"/><circle cx="794.7" cy="454.8" r="5.6"/><circle cx="796.1" cy="452.0" r="5.6"/><circle cx="798.0" cy="449.5" r="5.6"/><circle cx="800.2" cy="448.4" r="5.6"/><circle cx="802.8" cy="445.3" r="5.6"/><circle cx="803.9" cy="443.5" r="5.6"/><circle cx="807.0" cy="441.0" r="5.6"/><circle cx="808.4" cy="439.0" r="5.6"/><circle cx="811.3" cy="437.8" r="5.6"/><circle cx="599.3" cy="660.1" r="5.6"/><circle cx="600.9" cy="664.1" r="5.6"/><circle cx="602.4" cy="665.7" r="5.6"/><circle cx="602.7" cy="670.1" r="5.6"/><circle cx="604.1" cy="671.9" r="5.6"/><circle cx="604.9" cy="676.5" r="5.6"/><circle cx="605.9" cy="678.3" r="5.6"/><circle cx="607.0" cy="680.8" r="5.6"/><circle cx="608.8" cy="685.2" r="5.6"/><circle cx="608.9" cy="686.0" r="5.6"/><circle cx="610.4" cy="688.9" r="5.6"/><circle cx="610.1" cy="693.6" r="5.6"/><circle cx="611.7" cy="696.2" r="5.6"/><circle cx="612.5" cy="699.3" r="5.6"/><circle cx="613.4" cy="700.3" r="5.6"/><circle cx="613.5" cy="704.3" r="5.6"/><circle cx="615.3" cy="708.1" r="5.6"/><circle cx="615.2" cy="710.3" r="5.6"/><circle cx="616.4" cy="712.9" r="5.6"/><circle cx="616.8" cy="715.3" r="5.6"/><circle cx="618.1" cy="719.9" r="5.6"/><circle cx="618.1" cy="721.7" r="5.6"/><circle cx="619.9" cy="725.9" r="5.6"/><circle cx="619.5" cy="726.6" r="5.6"/><circle cx="633.7" cy="749.2" r="5.6"/><circle cx="633.5" cy="743.8" r="5.6"/><circle cx="634.7" cy="741.6" r="5.6"/><circle cx="635.2" cy="739.2" r="5.6"/><circle cx="635.6" cy="735.0" r="5.6"/><circle cx="636.1" cy="732.1" r="5.6"/><circle cx="636.1" cy="730.7" r="5.6"/><circle cx="638.0" cy="723.4" r="5.6"/><circle cx="637.7" cy="720.9" r="5.6"/><circle cx="638.9" cy="717.8" r="5.6"/><circle cx="639.0" cy="714.4" r="5.6"/><circle cx="640.7" cy="713.1" r="5.6"/><circle cx="640.4" cy="709.2" r="5.6"/><circle cx="642.4" cy="704.8" r="5.6"/><circle cx="643.3" cy="702.0" r="5.6"/><circle cx="643.8" cy="700.1" r="5.6"/><circle cx="644.7" cy="696.5" r="5.6"/><circle cx="649.9" cy="679.9" r="5.6"/><circle cx="650.9" cy="677.2" r="5.6"/><circle cx="651.9" cy="673.9" r="5.6"/><circle cx="652.2" cy="671.5" r="5.6"/><circle cx="654.0" cy="667.7" r="5.6"/><circle cx="655.5" cy="666.3" r="5.6"/><circle cx="656.0" cy="662.0" r="5.6"/><circle cx="657.1" cy="659.0" r="5.6"/><circle cx="657.7" cy="657.1" r="5.6"/><circle cx="658.7" cy="654.4" r="5.6"/><circle cx="660.5" cy="650.6" r="5.6"/><circle cx="661.9" cy="647.9" r="5.6"/><circle cx="663.2" cy="647.0" r="5.6"/><circle cx="664.1" cy="642.4" r="5.6"/><circle cx="665.2" cy="640.5" r="5.6"/><circle cx="667.2" cy="637.1" r="5.6"/><circle cx="668.3" cy="636.7" r="5.6"/><circle cx="669.3" cy="633.5" r="5.6"/><circle cx="669.7" cy="631.2" r="5.6"/><circle cx="671.5" cy="628.5" r="5.6"/><circle cx="673.5" cy="623.7" r="5.6"/><circle cx="674.6" cy="623.0" r="5.6"/><circle cx="674.7" cy="618.9" r="5.6"/><circle cx="677.2" cy="615.7" r="5.6"/><circle cx="678.8" cy="613.4" r="5.6"/><circle cx="680.0" cy="610.4" r="5.6"/><circle cx="680.9" cy="609.8" r="5.6"/><circle cx="681.8" cy="605.4" r="5.6"/><circle cx="683.7" cy="602.9" r="5.6"/><circle cx="684.4" cy="600.0" r="5.6"/><circle cx="686.1" cy="599.3" r="5.6"/><circle cx="688.4" cy="596.6" r="5.6"/><circle cx="689.0" cy="593.7" r="5.6"/><circle cx="690.4" cy="590.5" r="5.6"/><circle cx="692.7" cy="587.5" r="5.6"/><circle cx="694.6" cy="585.4" r="5.6"/><circle cx="695.7" cy="583.7" r="5.6"/><circle cx="696.5" cy="581.4" r="5.6"/><circle cx="698.9" cy="577.3" r="5.6"/><circle cx="700.7" cy="574.5" r="5.6"/><circle cx="702.6" cy="572.8" r="5.6"/><circle cx="703.2" cy="570.7" r="5.6"/><circle cx="704.9" cy="566.7" r="5.6"/><circle cx="707.9" cy="565.3" r="5.6"/><circle cx="709.6" cy="568.3" r="5.6"/><circle cx="710.9" cy="572.7" r="5.6"/><circle cx="712.4" cy="574.4" r="5.6"/><circle cx="713.6" cy="575.2" r="5.6"/><circle cx="714.7" cy="578.2" r="5.6"/><circle cx="717.2" cy="581.5" r="5.6"/><circle cx="718.5" cy="585.2" r="5.6"/><circle cx="719.5" cy="586.1" r="5.6"/><circle cx="721.8" cy="588.1" r="5.6"/><circle cx="722.3" cy="591.6" r="5.6"/><circle cx="723.9" cy="594.2" r="5.6"/><circle cx="725.6" cy="597.4" r="5.6"/><circle cx="727.6" cy="599.0" r="5.6"/><circle cx="729.1" cy="602.3" r="5.6"/><circle cx="729.8" cy="606.1" r="5.6"/><circle cx="731.3" cy="606.7" r="5.6"/><circle cx="732.5" cy="610.6" r="5.6"/><circle cx="735.1" cy="613.7" r="5.6"/><circle cx="735.7" cy="615.0" r="5.6"/><circle cx="736.5" cy="618.6" r="5.6"/><circle cx="738.7" cy="620.5" r="5.6"/><circle cx="740.2" cy="623.5" r="5.6"/><circle cx="741.9" cy="626.9" r="5.6"/><circle cx="742.1" cy="630.0" r="5.6"/><circle cx="743.1" cy="631.8" r="5.6"/><circle cx="744.9" cy="633.7" r="5.6"/><circle cx="745.6" cy="637.8" r="5.6"/><circle cx="746.8" cy="640.0" r="5.6"/><circle cx="749.5" cy="641.6" r="5.6"/><circle cx="749.5" cy="645.6" r="5.6"/><circle cx="751.1" cy="648.4" r="5.6"/><circle cx="752.8" cy="650.0" r="5.6"/><circle cx="753.1" cy="653.1" r="5.6"/><circle cx="753.8" cy="657.4" r="5.6"/><circle cx="756.1" cy="659.7" r="5.6"/><circle cx="756.0" cy="662.8" r="5.6"/><circle cx="758.2" cy="664.6" r="5.6"/><circle cx="759.3" cy="667.4" r="5.6"/><circle cx="759.5" cy="669.3" r="5.6"/><circle cx="760.5" cy="671.9" r="5.6"/><circle cx="761.7" cy="676.6" r="5.6"/><circle cx="763.2" cy="679.7" r="5.6"/><circle cx="764.2" cy="681.0" r="5.6"/><circle cx="764.9" cy="684.3" r="5.6"/><circle cx="766.2" cy="687.3" r="5.6"/><circle cx="766.2" cy="690.5" r="5.6"/><circle cx="768.2" cy="692.2" r="5.6"/><circle cx="818.1" cy="649.2" r="5.6"/><circle cx="818.2" cy="647.2" r="5.6"/><circle cx="820.1" cy="646.4" r="5.6"/><circle cx="821.2" cy="642.2" r="5.6"/><circle cx="822.6" cy="639.6" r="5.6"/><circle cx="821.6" cy="509.4" r="5.6"/><circle cx="824.1" cy="511.2" r="5.6"/><circle cx="826.0" cy="514.3" r="5.6"/><circle cx="827.6" cy="516.3" r="5.6"/><circle cx="829.8" cy="518.7" r="5.6"/><circle cx="831.2" cy="520.8" r="5.6"/><circle cx="833.3" cy="522.1" r="5.6"/><circle cx="834.5" cy="525.3" r="5.6"/><circle cx="836.1" cy="528.5" r="5.6"/><circle cx="838.1" cy="528.6" r="5.6"/><circle cx="839.8" cy="533.4" r="5.6"/><circle cx="842.0" cy="533.8" r="5.6"/><circle cx="843.2" cy="536.0" r="5.6"/><circle cx="846.1" cy="540.0" r="5.6"/><circle cx="847.8" cy="542.7" r="5.6"/><circle cx="816.6" cy="651.2" r="5.6"/><circle cx="818.2" cy="649.1" r="5.6"/><circle cx="820.1" cy="646.7" r="5.6"/><circle cx="820.0" cy="644.0" r="5.6"/><circle cx="822.5" cy="641.6" r="5.6"/><circle cx="822.4" cy="637.0" r="5.6"/><circle cx="823.6" cy="634.0" r="5.6"/><circle cx="826.0" cy="633.4" r="5.6"/><circle cx="826.9" cy="630.8" r="5.6"/><circle cx="828.1" cy="626.8" r="5.6"/><circle cx="828.5" cy="623.8" r="5.6"/><circle cx="830.8" cy="621.5" r="5.6"/><circle cx="856.9" cy="574.0" r="5.6"/><circle cx="858.1" cy="571.0" r="5.6"/><circle cx="860.1" cy="569.6" r="5.6"/><circle cx="861.9" cy="566.0" r="5.6"/><circle cx="864.6" cy="563.8" r="5.6"/><circle cx="866.1" cy="561.6" r="5.6"/><circle cx="414.7" cy="407.3" r="5.6"/><circle cx="419.8" cy="412.1" r="5.6"/><circle cx="423.2" cy="415.3" r="5.6"/><circle cx="428.5" cy="420.4" r="5.6"/><circle cx="436.3" cy="428.0" r="5.6"/><circle cx="408.3" cy="543.5" r="5.6"/><circle cx="416.4" cy="532.2" r="5.6"/><circle cx="423.9" cy="522.2" r="5.6"/><circle cx="429.3" cy="515.2" r="5.6"/><circle cx="433.3" cy="510.1" r="5.6"/><circle cx="437.2" cy="505.3" r="5.6"/><circle cx="441.5" cy="500.0" r="5.6"/><circle cx="445.1" cy="495.6" r="5.6"/><circle cx="448.5" cy="491.6" r="5.6"/><circle cx="455.3" cy="483.6" r="5.6"/><circle cx="492.0" cy="443.7" r="5.6"/><circle cx="495.4" cy="440.2" r="5.6"/><circle cx="502.3" cy="433.2" r="5.6"/><circle cx="520.6" cy="415.4" r="5.6"/><circle cx="525.2" cy="411.0" r="5.6"/><circle cx="527.5" cy="408.8" r="5.6"/><circle cx="605.4" cy="491.0" r="5.6"/><circle cx="608.9" cy="486.9" r="5.6"/><circle cx="576.8" cy="412.6" r="5.6"/><circle cx="403.7" cy="581.0" r="5.6"/><circle cx="408.3" cy="588.7" r="5.6"/><circle cx="412.9" cy="596.7" r="5.6"/><circle cx="416.4" cy="603.1" r="5.6"/><circle cx="419.8" cy="609.4" r="5.6"/><circle cx="423.2" cy="615.9" r="5.6"/><circle cx="426.7" cy="622.9" r="5.6"/><circle cx="442.3" cy="657.9" r="5.6"/><circle cx="443.9" cy="662.0" r="5.6"/><circle cx="450.0" cy="678.7" r="5.6"/><circle cx="451.4" cy="682.9" r="5.6"/><circle cx="453.0" cy="687.8" r="5.6"/><circle cx="455.3" cy="695.2" r="5.6"/><circle cx="456.5" cy="699.3" r="5.6"/><circle cx="458.3" cy="705.8" r="5.6"/><circle cx="459.9" cy="711.9" r="5.6"/><circle cx="484.0" cy="711.8" r="5.6"/><circle cx="485.8" cy="705.0" r="5.6"/><circle cx="491.5" cy="685.8" r="5.6"/><circle cx="492.7" cy="682.2" r="5.6"/><circle cx="497.3" cy="669.1" r="5.6"/><circle cx="498.9" cy="664.8" r="5.6"/><circle cx="500.0" cy="662.0" r="5.6"/><circle cx="502.7" cy="655.2" r="5.6"/><circle cx="506.4" cy="646.3" r="5.6"/><circle cx="778.0" cy="457.6" r="5.6"/><circle cx="783.3" cy="463.3" r="5.6"/><circle cx="788.0" cy="468.4" r="5.6"/><circle cx="606.9" cy="489.3" r="5.6"/><circle cx="610.3" cy="485.3" r="5.6"/><circle cx="614.9" cy="480.0" r="5.6"/><circle cx="679.1" cy="413.4" r="5.6"/><circle cx="712.3" cy="383.1" r="5.6"/><circle cx="703.0" cy="559.5" r="5.6"/><circle cx="818.9" cy="429.5" r="5.6"/><circle cx="853.8" cy="551.1" r="5.6"/>
</g>
<path d="M200.00,472.50 C206.23,473.40 218.07,475.28 237.40,477.90 C256.73,480.52 290.07,486.17 316.00,488.20 C341.93,490.23 367.05,490.37 393.00,490.10 C418.95,489.83 445.50,486.73 471.70,486.60 C497.90,486.47 532.15,487.45 550.20,489.30 C568.25,491.15 567.05,494.04 580.00,497.70 C592.95,501.36 616.10,508.82 627.90,511.25 C639.70,513.68 641.42,513.86 650.80,512.30 C660.18,510.74 671.70,503.88 684.20,501.90 C696.70,499.92 708.79,499.18 725.80,500.40 C742.81,501.62 763.67,505.65 786.25,509.20 C808.83,512.75 834.86,518.58 861.25,521.70 C887.64,524.82 930.71,526.87 944.60,527.90 L944.6,650.8 C937.65,642.47 918.53,616.07 902.90,600.80 C887.27,585.53 870.24,569.96 850.80,559.20 C831.36,548.44 810.55,541.82 786.25,536.25 C761.95,530.68 724.44,526.32 705.00,525.80 C685.56,525.27 679.32,530.48 669.60,533.10 C659.88,535.72 653.65,540.98 646.70,541.50 C639.75,542.02 639.02,538.68 627.90,536.25 C616.78,533.82 592.95,530.39 580.00,526.90 C567.05,523.41 568.25,517.15 550.20,515.30 C532.15,513.45 497.90,512.78 471.70,515.80 C445.50,518.82 418.95,524.37 393.00,533.40 C367.05,542.43 341.93,553.07 316.00,570.00 C290.07,586.93 256.73,617.62 237.40,635.00 C218.07,652.38 206.23,667.75 200.00,674.30 Z" fill="#999999" fill-opacity="0.25"/>
<path d="M200.00,573.20 C206.23,570.32 218.07,563.43 237.40,555.90 C256.73,548.37 290.07,535.82 316.00,528.00 C341.93,520.18 367.05,513.65 393.00,509.00 C418.95,504.35 445.50,501.32 471.70,500.10 C497.90,498.88 532.15,499.92 550.20,501.70 C568.25,503.48 569.83,507.65 580.00,510.80 C590.17,513.95 603.27,518.02 611.25,520.60 C619.23,523.18 622.69,525.02 627.90,526.30 C633.11,527.58 638.48,528.13 642.50,528.30 C646.52,528.47 648.53,528.23 652.00,527.30 C655.47,526.37 658.30,524.68 663.30,522.70 C668.30,520.72 676.43,516.97 682.00,515.40 C687.57,513.83 689.40,513.82 696.70,513.30 C704.00,512.78 710.88,511.08 725.80,512.30 C740.72,513.52 765.42,515.57 786.25,520.60 C807.08,525.63 831.36,534.68 850.80,542.50 C870.24,550.32 887.27,559.68 902.90,567.50 C918.53,575.32 937.65,585.75 944.60,589.40" fill="none" stroke="#34a36f" stroke-width="4.5" stroke-linecap="butt" stroke-linejoin="round"/>
<path d="M1084.4,788.30 L1084.4,785.4 C1088.53,784.55 1100.22,782.73 1109.20,780.30 C1118.18,777.87 1130.53,773.72 1138.30,770.80 C1146.07,767.88 1149.72,766.43 1155.80,762.80 C1161.88,759.17 1168.97,753.50 1174.80,749.00 C1180.63,744.50 1185.22,740.43 1190.80,735.80 C1196.38,731.17 1202.47,725.57 1208.30,721.20 C1214.13,716.83 1220.45,713.00 1225.80,709.60 C1231.15,706.20 1235.53,703.72 1240.40,700.80 C1245.27,697.88 1250.63,695.25 1255.00,692.10 C1259.37,688.95 1263.45,684.82 1266.60,681.90 C1269.75,678.98 1270.50,678.17 1273.90,674.60 C1277.30,671.03 1280.98,669.60 1287.00,660.50 C1293.02,651.40 1302.28,634.53 1310.00,620.00 C1317.72,605.47 1326.63,587.18 1333.30,573.30 C1339.97,559.42 1344.43,549.47 1350.00,536.70 C1355.57,523.93 1361.15,510.87 1366.70,496.70 C1372.25,482.53 1378.87,463.93 1383.30,451.70 C1387.73,439.47 1388.30,437.47 1393.30,423.30 C1398.30,409.13 1405.52,387.53 1413.30,366.70 C1421.08,345.87 1432.77,316.63 1440.00,298.30 C1447.23,279.97 1451.15,269.20 1456.70,256.70 C1462.25,244.20 1467.75,232.75 1473.30,223.30 C1478.85,213.85 1484.43,206.67 1490.00,200.00 C1495.57,193.33 1501.15,187.18 1506.70,183.30 C1512.25,179.42 1518.87,177.95 1523.30,176.70 C1527.73,175.45 1529.13,175.53 1533.30,175.80 C1537.47,176.07 1543.02,175.65 1548.30,178.30 C1553.58,180.95 1559.43,185.30 1565.00,191.70 C1570.57,198.10 1576.15,206.43 1581.70,216.70 C1587.25,226.97 1593.58,242.20 1598.30,253.30 C1603.02,264.40 1606.10,272.18 1610.00,283.30 C1613.90,294.42 1616.70,303.75 1621.70,320.00 C1626.70,336.25 1633.48,358.85 1640.00,380.80 C1646.52,402.75 1654.55,431.55 1660.80,451.70 C1667.05,471.85 1671.25,483.65 1677.50,501.70 C1683.75,519.75 1691.22,540.49 1698.30,560.00 C1705.38,579.51 1714.30,604.17 1720.00,618.75 C1725.70,633.33 1728.33,637.71 1732.50,647.50 C1736.67,657.29 1740.83,668.75 1745.00,677.50 C1749.17,686.25 1752.92,692.50 1757.50,700.00 C1762.08,707.50 1767.50,716.46 1772.50,722.50 C1777.50,728.54 1782.08,732.08 1787.50,736.25 C1792.92,740.42 1798.00,743.54 1805.00,747.50 C1812.00,751.46 1825.42,757.92 1829.50,760.00 L1829.5,788.30 Z" fill="#145096" fill-opacity="0.2"/>
<path d="M1085.00,786.15 L1088.10,785.97 L1091.20,785.77 L1094.31,785.56 L1097.41,785.33 L1100.51,785.08 L1103.61,784.81 L1106.71,784.53 L1109.82,784.22 L1112.92,783.89 L1116.02,783.54 L1119.12,783.16 L1122.22,782.75 L1125.33,782.32 L1128.43,781.86 L1131.53,781.36 L1134.63,780.84 L1137.74,780.27 L1140.84,779.67 L1143.94,779.03 L1147.04,778.35 L1150.14,777.62 L1153.25,776.85 L1156.35,776.03 L1159.45,775.16 L1162.55,774.24 L1165.65,773.26 L1168.76,772.22 L1171.86,771.12 L1174.96,769.96 L1178.06,768.73 L1181.16,767.43 L1184.27,766.06 L1187.37,764.61 L1190.47,763.08 L1193.57,761.47 L1196.67,759.77 L1199.78,757.98 L1202.88,756.11 L1205.98,754.13 L1209.08,752.06 L1212.19,749.88 L1215.29,747.60 L1218.39,745.21 L1221.49,742.70 L1224.59,740.08 L1227.70,737.34 L1230.80,734.48 L1233.90,731.48 L1237.00,728.36 L1240.10,725.11 L1243.21,721.71 L1246.31,718.18 L1249.41,714.51 L1252.51,710.69 L1255.61,706.72 L1258.72,702.60 L1261.82,698.32 L1264.92,693.89 L1268.02,689.30 L1271.12,684.55 L1274.23,679.64 L1277.33,674.56 L1280.43,669.32 L1283.53,663.91 L1286.64,658.33 L1289.74,652.59 L1292.84,646.67 L1295.94,640.59 L1299.04,634.34 L1302.15,627.92 L1305.25,621.34 L1308.35,614.58 L1311.45,607.67 L1314.55,600.59 L1317.66,593.35 L1320.76,585.96 L1323.86,578.41 L1326.96,570.71 L1330.06,562.86 L1333.17,554.87 L1336.27,546.74 L1339.37,538.48 L1342.47,530.10 L1345.58,521.59 L1348.68,512.97 L1351.78,504.24 L1354.88,495.41 L1357.98,486.49 L1361.09,477.48 L1364.19,468.40 L1367.29,459.25 L1370.39,450.04 L1373.49,440.78 L1376.60,431.49 L1379.70,422.16 L1382.80,412.82 L1385.90,403.48 L1389.00,394.13 L1392.11,384.81 L1395.21,375.51 L1398.31,366.25 L1401.41,357.04 L1404.51,347.90 L1407.62,338.84 L1410.72,329.86 L1413.82,320.99 L1416.92,312.23 L1420.03,303.60 L1423.13,295.11 L1426.23,286.77 L1429.33,278.60 L1432.43,270.61 L1435.54,262.81 L1438.64,255.21 L1441.74,247.83 L1444.84,240.68 L1447.94,233.76 L1451.05,227.10 L1454.15,220.70 L1457.25,214.57 L1460.35,208.72 L1463.45,203.17 L1466.56,197.92 L1469.66,192.98 L1472.76,188.36 L1475.86,184.06 L1478.96,180.11 L1482.07,176.49 L1485.17,173.23 L1488.27,170.32 L1491.37,167.77 L1494.47,165.58 L1497.58,163.77 L1500.68,162.32 L1503.78,161.25 L1506.88,160.56 L1509.99,160.24 L1513.09,160.30 L1516.19,160.74 L1519.29,161.56 L1522.39,162.75 L1525.50,164.31 L1528.60,166.25 L1531.70,168.55 L1534.80,171.22 L1537.90,174.24 L1541.01,177.62 L1544.11,181.35 L1547.21,185.41 L1550.31,189.81 L1553.41,194.53 L1556.52,199.57 L1559.62,204.92 L1562.72,210.57 L1565.82,216.51 L1568.92,222.73 L1572.03,229.22 L1575.13,235.96 L1578.23,242.96 L1581.33,250.19 L1584.44,257.64 L1587.54,265.30 L1590.64,273.17 L1593.74,281.22 L1596.84,289.44 L1599.95,297.83 L1603.05,306.37 L1606.15,315.04 L1609.25,323.84 L1612.35,332.74 L1615.46,341.75 L1618.56,350.84 L1621.66,360.00 L1624.76,369.23 L1627.86,378.50 L1630.97,387.81 L1634.07,397.14 L1637.17,406.49 L1640.27,415.83 L1643.38,425.17 L1646.48,434.49 L1649.58,443.77 L1652.68,453.01 L1655.78,462.20 L1658.89,471.33 L1661.99,480.39 L1665.09,489.37 L1668.19,498.27 L1671.29,507.06 L1674.40,515.76 L1677.50,524.35 L1680.60,532.81 L1683.70,541.16 L1686.80,549.38 L1689.91,557.46 L1693.01,565.40 L1696.11,573.21 L1699.21,580.86 L1702.31,588.36 L1705.42,595.70 L1708.52,602.89 L1711.62,609.92 L1714.72,616.78 L1717.83,623.48 L1720.93,630.01 L1724.03,636.37 L1727.13,642.57 L1730.23,648.60 L1733.34,654.46 L1736.44,660.15 L1739.54,665.67 L1742.64,671.03 L1745.74,676.22 L1748.85,681.24 L1751.95,686.10 L1755.05,690.80 L1758.15,695.34 L1761.25,699.72 L1764.36,703.94 L1767.46,708.01 L1770.56,711.93 L1773.66,715.71 L1776.76,719.34 L1779.87,722.82 L1782.97,726.17 L1786.07,729.38 L1789.17,732.46 L1792.28,735.41 L1795.38,738.24 L1798.48,740.94 L1801.58,743.52 L1804.68,745.99 L1807.79,748.35 L1810.89,750.59 L1813.99,752.74 L1817.09,754.78 L1820.19,756.72 L1823.30,758.57 L1826.40,760.33 L1829.50,762.00" fill="none" stroke="#34a36f" stroke-width="4.3" stroke-linejoin="round"/>
<text x="51.8" y="77.6" font-size="32.45" fill="#000">Homogeneity of Variance</text>
<text x="53" y="110" font-size="26.7" fill="#000">Reference line should be flat and horizontal</text>
<text x="1007.2" y="77.6" font-size="32.3" fill="#000">Normality of Residuals</text>
<text x="1008.2" y="110" font-size="26.75" fill="#000">Distribution should be close to the normal curve</text>
<text x="315.50" y="864" font-size="24" fill="#666666" text-anchor="middle">1</text>
<text x="471.94" y="864" font-size="24" fill="#666666" text-anchor="middle">2</text>
<text x="628.38" y="864" font-size="24" fill="#666666" text-anchor="middle">3</text>
<text x="784.82" y="864" font-size="24" fill="#666666" text-anchor="middle">4</text>
<text x="941.26" y="864" font-size="24" fill="#666666" text-anchor="middle">5</text>
<text x="136.6" y="816.70" font-size="24.4" fill="#666666" text-anchor="end">0.0</text>
<text x="136.6" y="640.27" font-size="24.4" fill="#666666" text-anchor="end">0.5</text>
<text x="136.6" y="463.83" font-size="24.4" fill="#666666" text-anchor="end">1.0</text>
<text x="136.6" y="287.39" font-size="24.4" fill="#666666" text-anchor="end">1.5</text>
<text x="1274.28" y="864" font-size="24" fill="#666666" text-anchor="middle">-2</text>
<text x="1510.80" y="864" font-size="24" fill="#666666" text-anchor="middle">0</text>
<text x="1747.32" y="864" font-size="24" fill="#666666" text-anchor="middle">2</text>
<text x="572.5" y="902.4" font-size="26.8" fill="#333333" text-anchor="middle">Fitted values</text>
<text x="1456.8" y="902.4" font-size="26.8" fill="#333333" text-anchor="middle">Residuals</text>
<text transform="translate(1029,475.2) rotate(-90)" font-size="26.9" fill="#333333" text-anchor="middle">Density</text>
<text transform="translate(78.2,557) rotate(-90)" font-size="26.65" fill="#333333" text-anchor="start">|Std. residuals|</text>
<path d="M53.1,378.7 L53.1,558.9 L83.5,563.3 L71,566.7 L72.5,570.2" fill="none" stroke="#333333" stroke-width="1.8" stroke-linejoin="round" stroke-linecap="butt"/>
</svg></body></html>
